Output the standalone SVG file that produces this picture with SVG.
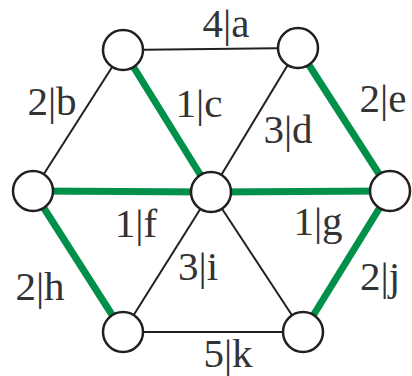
<svg xmlns="http://www.w3.org/2000/svg" width="412" height="376" viewBox="0 0 412 376">
<style>
.thin{stroke:#231f20;stroke-width:2;fill:none}
.green{stroke:#00904a;stroke-width:7;fill:none}
.node{fill:#fff;stroke:#231f20;stroke-width:2.5}
text{font-family:"Liberation Serif","Times New Roman",serif;font-size:41px;fill:#333;text-anchor:middle}
</style>
<rect width="412" height="376" fill="#fff"/>
<g id="connectors">
<line class="thin" x1="123" y1="50" x2="298" y2="48"/>
<line class="thin" x1="123" y1="50" x2="33" y2="191"/>
<line class="green" x1="123" y1="50" x2="211" y2="192"/>
<line class="thin" x1="298" y1="48" x2="211" y2="192"/>
<line class="green" x1="298" y1="48" x2="390" y2="191"/>
<line class="green" x1="33" y1="191" x2="211" y2="192"/>
<line class="green" x1="211" y1="192" x2="390" y2="191"/>
<line class="green" x1="33" y1="191" x2="123" y2="332"/>
<line class="thin" x1="211" y1="192" x2="123" y2="332"/>
<line class="thin" x1="211" y1="192" x2="303" y2="332"/>
<line class="green" x1="390" y1="191" x2="303" y2="332"/>
<line class="thin" x1="123" y1="332" x2="303" y2="332"/>
</g>
<g id="labels">
<text x="226" y="37">4|a</text>
<text x="52" y="115">2|b</text>
<text x="199" y="117">1|c</text>
<text x="288" y="143">3|d</text>
<text x="383" y="112">2|e</text>
<text x="136" y="237">1|f</text>
<text x="318" y="235">1|g</text>
<text x="40" y="300">2|h</text>
<text x="198" y="280">3|i</text>
<text x="380" y="290">2|j</text>
<text x="228" y="367">5|k</text>
</g>
<g id="n1"><circle class="node" cx="123" cy="50" r="20"/></g>
<g id="n2"><circle class="node" cx="298" cy="48" r="20"/></g>
<g id="n3"><circle class="node" cx="33" cy="191" r="20"/></g>
<g id="n4"><circle class="node" cx="211" cy="192" r="20"/></g>
<g id="n5"><circle class="node" cx="390" cy="191" r="20"/></g>
<g id="n6"><circle class="node" cx="123" cy="332" r="20"/></g>
<g id="n7"><circle class="node" cx="303" cy="332" r="20"/></g>
</svg>
